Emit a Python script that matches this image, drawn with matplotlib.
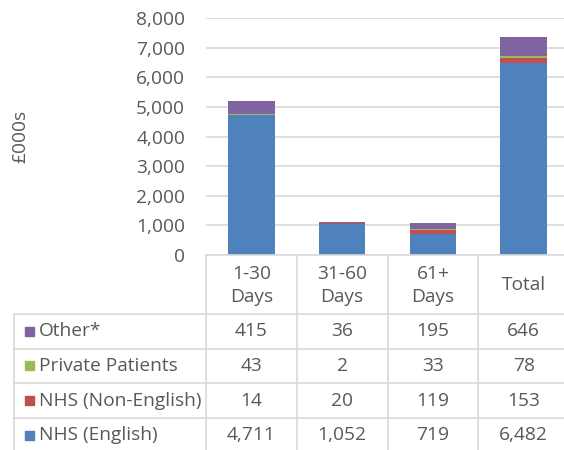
import matplotlib
matplotlib.use("Agg")
import matplotlib.pyplot as plt
from matplotlib.lines import Line2D
from matplotlib.patches import Rectangle

plt.rcParams['font.family'] = ['Open Sans', 'DejaVu Sans']

categories = ["1-30\nDays", "31-60\nDays", "61+\nDays", "Total"]
series_names = ["Other*", "Private Patients", "NHS (Non-English)", "NHS (English)"]
nhs_english = [4711, 1052, 719, 6482]
nhs_non_english = [14, 20, 119, 153]
private_patients = [43, 2, 33, 78]
other = [415, 36, 195, 646]
y_ticks = [0, 1000, 2000, 3000, 4000, 5000, 6000, 7000, 8000]
y_label = "£000s"

colors = {"NHS (English)": "#4F81BD", "NHS (Non-English)": "#C0504D",
          "Private Patients": "#9BBB59", "Other*": "#8064A2"}
values = {"NHS (English)": nhs_english, "NHS (Non-English)": nhs_non_english,
          "Private Patients": private_patients, "Other*": other}

W, H = 564, 450
TXT = "#595959"
GRID = "#D9D9D9"
FS = 13.8

fig = plt.figure(figsize=(W / 100, H / 100), dpi=100)

x0, x1, ytop, ybot = 206, 569, 18, 255
ax = fig.add_axes([x0 / W, 1 - ybot / H, (x1 - x0) / W, (ybot - ytop) / H])
ax.set_xlim(-0.5, len(categories) - 0.5)
ax.set_ylim(y_ticks[0], y_ticks[-1])
ax.set_yticks(y_ticks)
ax.set_yticklabels([f"{v:,}" for v in y_ticks], fontsize=FS, color=TXT)
ax.tick_params(axis='y', length=0, pad=15)
ax.set_xticks([])
for s in ax.spines.values():
    s.set_visible(False)
ax.grid(axis='y', color=GRID, lw=1.2)
ax.set_axisbelow(True)

xs = list(range(len(categories)))
bottom = [0] * len(categories)
for name in ["NHS (English)", "NHS (Non-English)", "Private Patients", "Other*"]:
    ax.bar(xs, values[name], width=0.51, bottom=bottom, color=colors[name],
           linewidth=0, zorder=3)
    bottom = [b + v for b, v in zip(bottom, values[name])]

fig.text(20 / W, 1 - 136 / H, y_label, rotation=90, fontsize=FS, color=TXT,
         ha='center', va='center')

# Data table in pixel coordinates
tax = fig.add_axes([0, 0, 1, 1])
tax.set_xlim(0, W)
tax.set_ylim(H, 0)
tax.axis('off')
tax.patch.set_alpha(0)

colw = (x1 - x0) / len(categories)
col_edges = [x0 + i * colw for i in range(len(categories) + 1)]
left_edge = 14
header_top, header_bot = 255, 314
row_h = 34.6
row_edges = [header_bot + i * row_h for i in range(len(series_names) + 1)]

lw = 1.2
tax.add_line(Line2D([x0, W + 10], [header_top, header_top], color=GRID, lw=lw))
for y in row_edges:
    tax.add_line(Line2D([left_edge, W + 10], [y, y], color=GRID, lw=lw))
tax.add_line(Line2D([left_edge, left_edge], [header_bot, row_edges[-1]], color=GRID, lw=lw))
for xe in col_edges:
    tax.add_line(Line2D([xe, xe], [header_top, row_edges[-1]], color=GRID, lw=lw))

for i, c in enumerate(categories):
    cx = (col_edges[i] + col_edges[i + 1]) / 2
    tax.text(cx, (header_top + header_bot) / 2 + 1, c, ha='center', va='center',
             fontsize=FS, color=TXT, linespacing=1.4)

for r, name in enumerate(series_names):
    cy = (row_edges[r] + row_edges[r + 1]) / 2
    tax.add_patch(Rectangle((25, cy - 4.5), 9, 9, color=colors[name]))
    tax.text(39, cy, name, ha='left', va='center', fontsize=FS, color=TXT)
    for i, v in enumerate(values[name]):
        cx = (col_edges[i] + col_edges[i + 1]) / 2
        tax.text(cx, cy, f"{v:,}", ha='center', va='center', fontsize=FS, color=TXT)

fig.savefig("out.png", dpi=100)
